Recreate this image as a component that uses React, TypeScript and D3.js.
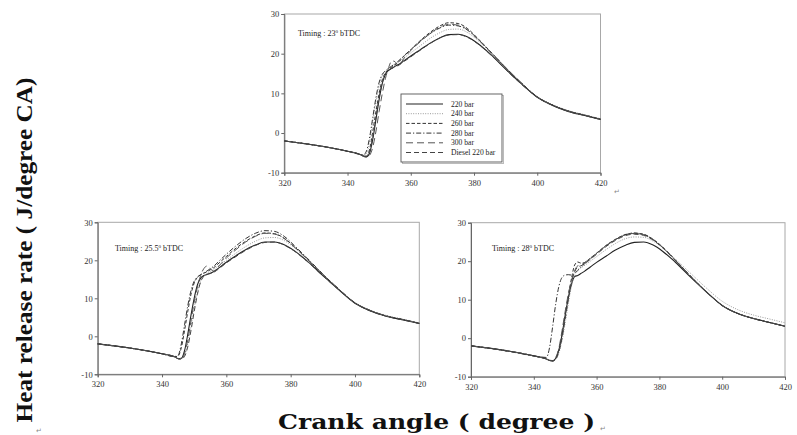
import React, { useEffect, useRef } from "react";
import * as d3 from "d3";

// Crank angle grid (degree)
const ANGLES = [320, 330, 340, 344, 345, 346, 347, 348, 349, 350, 351, 352, 353, 354, 355, 356, 358, 360, 363, 366, 369, 372, 375, 378, 381, 385, 390, 395, 400, 405, 410, 415, 420];

const SERIES_NAMES = ["220 bar", "240 bar", "260 bar", "280 bar", "300 bar", "Diesel 220 bar"];
const X_TICKS = [320, 340, 360, 380, 400, 420];
const Y_TICKS = [-10, 0, 10, 20, 30];
const TIMINGS = ["23", "25.5", "28"];

// Timing 23 deg bTDC
const T23_220 = [-2.0, -3.1, -4.6, -5.4, -5.8, -6.0, -5.0, -1.5, 3.5, 8.5, 12.5, 14.8, 15.8, 16.3, 16.8, 17.2, 18.3, 19.4, 21.0, 22.6, 23.9, 24.8, 24.9, 24.2, 22.7, 20.0, 16.1, 12.4, 9.0, 6.9, 5.4, 4.4, 3.4];
const T23_240 = [-2.0, -3.1, -4.6, -5.4, -5.6, -5.2, -2.0, 3.0, 8.0, 12.0, 14.5, 15.6, 16.2, 16.8, 17.3, 17.8, 19.0, 20.2, 22.0, 23.8, 25.2, 26.1, 26.2, 25.3, 23.5, 20.5, 16.5, 12.6, 9.2, 7.1, 5.6, 4.6, 3.6];
const T23_260 = [-2.0, -3.1, -4.6, -5.4, -5.7, -5.8, -4.0, 0.5, 5.5, 10.0, 13.5, 15.2, 16.0, 16.6, 17.2, 17.8, 19.5, 21.0, 23.3, 25.3, 26.9, 27.8, 27.6, 26.3, 24.0, 20.7, 16.5, 12.6, 9.1, 7.0, 5.5, 4.5, 3.5];
const T23_280 = [-2.0, -3.1, -4.6, -5.4, -5.5, -4.5, -1.0, 4.0, 9.0, 12.8, 14.8, 15.7, 16.3, 16.9, 17.5, 18.1, 19.6, 21.0, 23.2, 25.0, 26.4, 27.2, 27.0, 25.9, 23.8, 20.6, 16.5, 12.6, 9.1, 7.0, 5.5, 4.5, 3.5];
const T23_300 = [-2.0, -3.1, -4.6, -5.4, -5.9, -6.1, -5.6, -3.5, 0.5, 5.5, 10.0, 13.8, 16.5, 18.2, 18.0, 17.0, 19.0, 20.8, 23.0, 25.0, 26.6, 27.4, 27.2, 26.0, 23.9, 20.6, 16.5, 12.6, 9.1, 7.0, 5.5, 4.5, 3.5];
const T23_D = [-2.0, -3.1, -4.6, -5.4, -5.8, -5.9, -4.6, -1.0, 4.0, 9.0, 12.8, 15.0, 15.9, 16.3, 16.7, 17.0, 18.1, 19.2, 20.9, 22.5, 23.9, 24.7, 24.8, 24.1, 22.6, 19.9, 16.0, 12.3, 9.0, 6.9, 5.4, 4.4, 3.4];

// Timing 25.5 deg bTDC
const T25_220 = [-2.0, -3.1, -4.6, -5.4, -5.9, -5.8, -3.8, 0.5, 5.5, 10.0, 13.5, 15.3, 16.0, 16.3, 16.6, 17.0, 18.2, 19.5, 21.2, 22.8, 24.0, 24.8, 24.8, 24.1, 22.6, 19.9, 16.0, 12.2, 8.7, 6.6, 5.2, 4.3, 3.4];
const T25_240 = [-2.0, -3.1, -4.6, -5.4, -5.8, -5.9, -5.0, -2.0, 2.5, 7.5, 11.5, 14.5, 15.8, 16.5, 17.0, 17.6, 18.8, 20.0, 21.9, 23.6, 25.0, 25.9, 26.0, 25.2, 23.4, 20.4, 16.3, 12.4, 8.9, 6.8, 5.4, 4.5, 3.5];
const T25_260 = [-2.0, -3.1, -4.6, -5.4, -5.2, -3.0, 1.5, 6.5, 11.0, 14.0, 15.5, 16.2, 16.6, 17.0, 17.5, 18.0, 19.5, 21.0, 23.2, 25.0, 26.4, 27.2, 27.0, 25.8, 23.7, 20.5, 16.3, 12.4, 8.8, 6.7, 5.3, 4.4, 3.4];
const T25_280 = [-2.0, -3.1, -4.6, -5.3, -5.0, -2.0, 3.0, 8.0, 12.0, 14.5, 15.6, 16.2, 16.7, 17.2, 17.8, 18.4, 20.0, 21.6, 23.8, 25.7, 27.1, 27.8, 27.6, 26.3, 24.0, 20.7, 16.4, 12.4, 8.8, 6.7, 5.3, 4.4, 3.4];
const T25_300 = [-2.0, -3.1, -4.6, -5.4, -5.9, -6.0, -4.5, -1.0, 4.0, 9.0, 13.0, 16.0, 17.8, 18.5, 17.8, 17.2, 18.8, 20.6, 22.8, 24.8, 26.3, 27.1, 26.9, 25.7, 23.6, 20.4, 16.3, 12.4, 8.8, 6.7, 5.3, 4.4, 3.4];
const T25_D = [-2.0, -3.1, -4.6, -5.4, -5.9, -6.0, -5.3, -2.8, 1.5, 6.5, 11.0, 14.3, 15.8, 16.3, 16.5, 16.8, 18.0, 19.3, 21.0, 22.6, 23.9, 24.7, 24.8, 24.0, 22.5, 19.8, 15.9, 12.2, 8.7, 6.6, 5.2, 4.3, 3.4];

// Timing 28 deg bTDC
const T28_220 = [-2.0, -3.1, -4.6, -5.4, -5.8, -5.9, -5.2, -3.0, 1.0, 6.0, 10.5, 14.0, 16.0, 16.3, 16.8, 17.3, 18.5, 19.7, 21.3, 22.9, 24.1, 24.9, 25.0, 24.2, 22.6, 19.8, 15.8, 12.0, 8.5, 6.4, 5.1, 4.1, 3.1];
const T28_240 = [-2.0, -3.1, -4.6, -5.4, -5.8, -5.9, -5.5, -3.8, -0.5, 4.0, 9.0, 13.5, 16.5, 17.8, 18.3, 18.8, 20.0, 21.2, 23.0, 24.6, 25.8, 26.3, 26.2, 25.2, 23.5, 20.6, 16.8, 13.0, 9.6, 7.4, 6.0, 5.0, 4.0];
const T28_260 = [-2.0, -3.1, -4.6, -5.4, -5.8, -5.9, -5.3, -3.0, 1.0, 6.0, 11.0, 15.5, 19.0, 19.8, 19.5, 19.6, 20.8, 22.1, 24.1, 25.7, 26.9, 27.3, 27.0, 25.7, 23.7, 20.4, 16.1, 12.0, 8.5, 6.4, 5.1, 4.1, 3.1];
const T28_280 = [-2.0, -3.1, -4.6, -5.0, -2.5, 3.0, 9.0, 13.5, 15.8, 16.4, 16.5, 16.4, 16.8, 17.6, 18.4, 19.2, 20.6, 22.0, 24.0, 25.6, 26.8, 27.3, 26.9, 25.6, 23.6, 20.3, 16.0, 12.0, 8.5, 6.4, 5.1, 4.1, 3.1];
const T28_300 = [-2.0, -3.1, -4.6, -5.4, -5.7, -5.8, -5.0, -2.5, 2.0, 7.0, 11.5, 15.0, 17.5, 18.8, 19.0, 19.5, 20.8, 22.0, 24.0, 25.6, 26.8, 27.2, 26.9, 25.6, 23.6, 20.3, 16.0, 12.0, 8.5, 6.4, 5.1, 4.1, 3.1];
const T28_D = [-2.0, -3.1, -4.6, -5.4, -5.8, -5.9, -5.4, -3.5, 0.0, 5.0, 10.0, 14.5, 17.2, 18.5, 18.8, 19.2, 20.5, 21.8, 23.8, 25.4, 26.6, 27.0, 26.7, 25.5, 23.5, 20.2, 16.0, 12.0, 8.5, 6.4, 5.1, 4.1, 3.1];

const PANEL_DATA = [
  [T23_220, T23_240, T23_260, T23_280, T23_300, T23_D],
  [T25_220, T25_240, T25_260, T25_280, T25_300, T25_D],
  [T28_220, T28_240, T28_260, T28_280, T28_300, T28_D],
];

const LINE_STYLES = [
  { dash: null, color: "#222", width: 1.1 },
  { dash: "1,1.4", color: "#9a9a9a", width: 1 },
  { dash: "3.5,2", color: "#333", width: 1 },
  { dash: "5,2,1.2,2", color: "#333", width: 1 },
  { dash: "7,4", color: "#555", width: 1 },
  { dash: "5,3", color: "#444", width: 1 },
];

const PANELS = [
  { left: 284.3, right: 600.5, top: 14, bottom: 172.7, tx: 298, ty: 36, legend: true },
  { left: 97.7, right: 419.3, top: 222.3, bottom: 374.3, tx: 115, ty: 251, legend: false },
  { left: 471, right: 785, top: 222.7, bottom: 376.7, tx: 492, ty: 251, legend: false },
];

export default function App() {
  const ref = useRef<SVGSVGElement | null>(null);

  useEffect(() => {
    const svg = d3.select(ref.current);
    svg.selectAll("*").remove();
    const font = "'Liberation Serif', 'Times New Roman', serif";

    PANELS.forEach((p, pi) => {
      const x = d3.scaleLinear().domain([320, 420]).range([p.left, p.right]);
      const y = d3.scaleLinear().domain([-10, 30]).range([p.bottom, p.top]);
      const g = svg.append("g");

      // frame
      g.append("rect")
        .attr("x", p.left).attr("y", p.top)
        .attr("width", p.right - p.left).attr("height", p.bottom - p.top)
        .attr("fill", "none").attr("stroke", "#a8a8a8").attr("stroke-width", 1);

      const xa = g.append("g").attr("transform", `translate(0,${p.bottom})`)
        .call(d3.axisBottom(x).tickValues(X_TICKS).tickSize(3).tickPadding(4).tickFormat((d) => String(d)));
      const ya = g.append("g").attr("transform", `translate(${p.left},0)`)
        .call(d3.axisLeft(y).tickValues(Y_TICKS).tickSize(3).tickPadding(2).tickFormat((d) => String(d)));
      [xa, ya].forEach((a) => {
        a.select(".domain").attr("stroke", "#666");
        a.selectAll(".tick line").attr("stroke", "#666");
        a.selectAll(".tick text").attr("font-family", font).attr("font-size", 8.5).attr("fill", "#333");
      });

      const line = d3.line<number>()
        .x((_, i) => x(ANGLES[i]))
        .y((d) => y(d))
        .curve(d3.curveMonotoneX);

      PANEL_DATA[pi].forEach((vals, si) => {
        const st = LINE_STYLES[si];
        g.append("path")
          .attr("d", line(vals) as string)
          .attr("fill", "none")
          .attr("stroke", st.color)
          .attr("stroke-width", st.width)
          .attr("stroke-dasharray", st.dash as any);
      });

      const t = g.append("text").attr("x", p.tx).attr("y", p.ty)
        .attr("font-family", font).attr("font-size", 8).attr("fill", "#222");
      t.append("tspan").text(`Timing : ${TIMINGS[pi]}`);
      t.append("tspan").attr("dy", -3).attr("font-size", 5).text("0");
      t.append("tspan").attr("dy", 3).text(" bTDC");

      if (p.legend) {
        const lx = 401, ly = 94, lw = 101, lh = 68;
        g.append("rect").attr("x", lx + 1.5).attr("y", ly + 1.5).attr("width", lw).attr("height", lh)
          .attr("fill", "none").attr("stroke", "#bbb").attr("stroke-width", 1);
        g.append("rect").attr("x", lx).attr("y", ly).attr("width", lw).attr("height", lh)
          .attr("fill", "#fff").attr("stroke", "#555").attr("stroke-width", 0.9);
        SERIES_NAMES.forEach((name, si) => {
          const st = LINE_STYLES[si];
          const yy = 104 + si * 9.7;
          g.append("line").attr("x1", 406).attr("x2", 443).attr("y1", yy).attr("y2", yy)
            .attr("stroke", st.color).attr("stroke-width", st.width)
            .attr("stroke-dasharray", st.dash as any);
          g.append("text").attr("x", 451).attr("y", yy + 2.6)
            .attr("font-family", font).attr("font-size", 7.6).attr("fill", "#222").text(name);
        });
      }
    });

    // axis titles
    svg.append("text")
      .attr("transform", "translate(32,250) rotate(-90)")
      .attr("text-anchor", "middle")
      .attr("font-family", font).attr("font-weight", "bold").attr("font-size", 24)
      .attr("textLength", 345).attr("lengthAdjust", "spacingAndGlyphs")
      .attr("fill", "#111")
      .text("Heat release rate ( J/degree CA)");
    svg.append("text")
      .attr("x", 436.5).attr("y", 429)
      .attr("text-anchor", "middle")
      .attr("font-family", "'DejaVu Serif', serif").attr("font-weight", "bold").attr("font-size", 20)
      .attr("textLength", 317).attr("lengthAdjust", "spacingAndGlyphs")
      .attr("fill", "#111")
      .text("Crank angle ( degree )");

    // paragraph marks
    const marks = [[614, 194], [36, 433], [600, 431]];
    marks.forEach(([mx, my]) => {
      svg.append("text").attr("x", mx).attr("y", my)
        .attr("font-family", "'DejaVu Sans', sans-serif").attr("font-size", 7).attr("fill", "#888").text("\u21B5");
    });
  }, []);

  return (
    <svg ref={ref} width={797} height={435} style={{ position: "absolute", left: 0, top: 0, background: "#fff" }} />
  );
}
